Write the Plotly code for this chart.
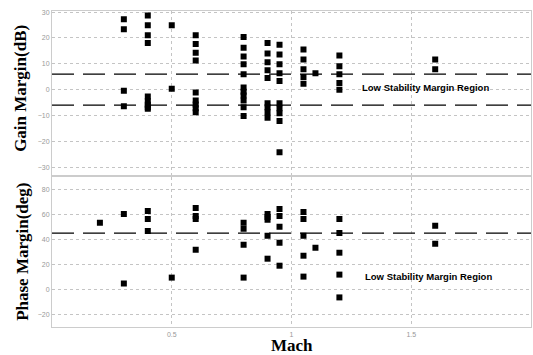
import plotly.graph_objects as go

# Gain margin data (Mach, dB)
gain_mach = [0.3]*4 + [0.4]*9 + [0.5]*2 + [0.6]*9 + [0.8]*11 + [0.9]*9 + [0.95]*10 + [1.05]*5 + [1.1] + [1.2]*5 + [1.6]*2
gain_db = [27.2, 23.4, -0.4, -6.4,
           28.7, 24.9, 21.1, 18.1, -2.6, -4.5, -5.8, -6.8, -7.4,
           24.9, 0.4,
           21.1, 17.7, 14.3, 11.3, -1.1, -4.2, -5.7, -7.2, -8.7,
           20.4, 16.2, 12.8, 9.8, 6.0, 0.8, -0.8, -2.3, -4.2, -6.8, -10.2,
           18.1, 14.0, 10.6, 7.5, 4.5, -5.3, -6.8, -8.7, -10.9,
           17.4, 13.6, 9.8, 6.4, 3.4, -5.3, -7.2, -9.1, -12.1, -24.2,
           15.5, 11.7, 7.9, 4.9, 2.3,
           6.4,
           13.2, 9.1, 6.0, 2.6, 0.0,
           11.7, 7.9]

# Phase margin data (Mach, deg)
phase_mach = [0.2] + [0.3]*2 + [0.4]*3 + [0.5] + [0.6]*4 + [0.8]*4 + [0.9]*5 + [0.95]*5 + [1.05]*5 + [1.1] + [1.2]*5 + [1.6]*2
phase_deg = [53.2,
             60.3, 4.8,
             62.7, 56.3, 46.8,
             9.5,
             65.1, 58.7, 56.3, 31.7,
             53.2, 48.4, 35.7, 9.5,
             60.3, 57.9, 55.6, 42.9, 24.6,
             64.3, 58.7, 50.0, 37.3, 19.0,
             61.9, 56.3, 42.9, 27.0, 10.3,
             33.3,
             56.3, 45.2, 29.4, 11.9, -6.3,
             50.8, 36.5]

gain_limits = [6, -6]
phase_limit = [45]
x_ticks = [0, 0.5, 1, 1.5, 2]
x_ticklabels = ["", "0.5", "1", "1.5", ""]
gain_ticks = [-30, -20, -10, 0, 10, 20, 30]
phase_ticks = [-20, 0, 20, 40, 60, 80]

fig = go.Figure()
mk = dict(symbol="square", size=6, color="black")
fig.add_trace(go.Scatter(x=gain_mach, y=gain_db, mode="markers", marker=mk, xaxis="x", yaxis="y", showlegend=False))
fig.add_trace(go.Scatter(x=phase_mach, y=phase_deg, mode="markers", marker=mk, xaxis="x2", yaxis="y2", showlegend=False))

dash_line = dict(color="black", width=1.4, dash="22px,9px")
for v in gain_limits:
    fig.add_trace(go.Scatter(x=[0, 2], y=[v, v], mode="lines", line=dash_line,
                             xaxis="x", yaxis="y", showlegend=False, hoverinfo="skip"))
for v in phase_limit:
    fig.add_trace(go.Scatter(x=[0, 2], y=[v, v], mode="lines", line=dash_line,
                             xaxis="x2", yaxis="y2", showlegend=False, hoverinfo="skip"))

grid = dict(showgrid=True, gridcolor="#c4c4c4", griddash="dot", gridwidth=1,
            showline=True, linecolor="#cccccc", mirror=True, zeroline=False,
            tickfont=dict(size=7, color="#999999", family="Liberation Sans"), ticks="")

fig.update_layout(
    width=533, height=355,
    margin=dict(l=52, r=2, t=0, b=0),
    plot_bgcolor="white", paper_bgcolor="white",
    xaxis=dict(domain=[0, 1], range=[0, 2], tickvals=x_ticks, ticktext=["", "", "", "", ""], anchor="y", **grid),
    yaxis=dict(domain=[0.51, 0.975], range=[-33, 30.5], tickvals=gain_ticks, anchor="x", **grid),
    xaxis2=dict(domain=[0, 1], range=[0, 2], tickvals=x_ticks, ticktext=x_ticklabels, anchor="y2", **grid),
    yaxis2=dict(domain=[0.079, 0.505], range=[-30, 90], tickvals=phase_ticks, anchor="x2", **grid),
)

title_font = dict(family="Liberation Serif", size=17, color="black")
fig.add_annotation(text="<b>Gain Margin(dB)</b>", xref="paper", yref="paper", x=-0.066, y=0.755,
                   textangle=-90, showarrow=False, font=title_font, xanchor="center", yanchor="middle")
fig.add_annotation(text="<b>Phase Margin(deg)</b>", xref="paper", yref="paper", x=-0.062, y=0.293,
                   textangle=-90, showarrow=False, font=title_font, xanchor="center", yanchor="middle")
fig.add_annotation(text="<b>Mach</b>", xref="paper", yref="paper", x=0.5, y=0.028,
                   showarrow=False, font=title_font, xanchor="center", yanchor="middle")

lab_font = dict(family="Liberation Sans", size=9.5, color="black")
fig.add_annotation(text="<b>Low Stability Margin Region</b>", xref="x", yref="y", x=1.56, y=0.7,
                   showarrow=False, font=lab_font)
fig.add_annotation(text="<b>Low Stability Margin Region</b>", xref="x2", yref="y2", x=1.57, y=10,
                   showarrow=False, font=lab_font)

fig.write_html("out.html")
